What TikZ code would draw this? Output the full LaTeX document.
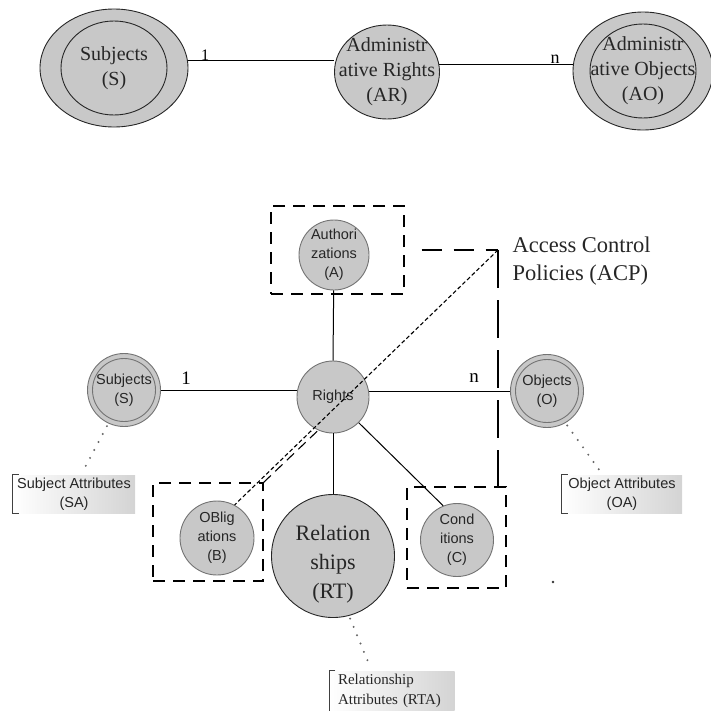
\documentclass[tikz,border=0pt]{standalone}
\usepackage{fontspec}
\setmainfont{Liberation Serif}
\setsansfont{Liberation Sans}
\usetikzlibrary{shapes.geometric, calc}
\definecolor{entgray}{RGB}{200,200,200}
\definecolor{ringgray}{RGB}{115,115,115}
\tikzset{
	topent/.style={ellipse, draw=black!85, line width=0.9pt, fill=entgray, inner sep=0pt},
	ent/.style={circle, draw=ringgray, line width=0.9pt, fill=entgray, inner sep=0pt},
	bigent/.style={circle, draw=black!85, line width=0.9pt, fill=entgray, inner sep=0pt},
	toptext/.style={align=center, font=\fontsize{20}{25}\selectfont, text=black!85},
	enttext/.style={align=center, font=\sffamily\fontsize{14.5}{19}\selectfont, text=black!85},
	bigtext/.style={align=center, font=\fontsize{22}{29}\selectfont, text=black!85},
	card/.style={inner sep=0pt, font=\fontsize{18}{18}\selectfont},
	dashbox/.style={rectangle, draw, line width=1.3pt, dash pattern=on 12pt off 8pt, inner sep=0pt},
	acpline/.style={draw, line width=1.3pt},
	diagline/.style={draw, line width=1.1pt, dash pattern=on 4pt off 2.5pt},
	diagline2/.style={draw, line width=1.1pt, dash pattern=on 10pt off 6pt},
	conn/.style={draw, line width=1pt},
	attrbox/.style={rectangle, inner sep=0pt, left color=white, right color=black!17, align=center, minimum height=38pt, font=\sffamily\fontsize{14.5}{19}\selectfont, text=black!85},
	bracket/.style={draw=black!75, line width=1.1pt},
	attrdots/.style={draw=black!60, line width=2.2pt, line cap=round, dash pattern=on 0pt off 9pt, shorten <=3pt, shorten >=6pt}
}

\begin{document}
\begin{tikzpicture}[x=1pt, y=-1pt]
	\useasboundingbox (0,0) rectangle (711,710);

	% Administrative level
	\node[topent, minimum width=148pt, minimum height=118pt] (S) at (114,68) {};
	\node[topent, minimum width=106pt, minimum height=94pt, label={[toptext]center:Subjects\\(S)}] (Sin) at (S) {};
	\node[topent, minimum width=105pt, minimum height=94pt, label={[toptext]center:Administr\\ative Rights\\(AR)}] (AR) at (387,72) {};
	\node[topent, minimum width=140pt, minimum height=118pt] (AO) at (643,71) {};
	\node[topent, minimum width=106pt, minimum height=94pt, label={[toptext]center:Administr\\ative Objects\\(AO)}] (AOin) at (AO) {};
	\draw[conn] (S.6) -- (S.6 -| AR.west);
	\draw[conn] (AR.8) -- (AR.8 -| AO.west);
	\node[card, font=\fontsize{16}{16}\selectfont] (cardSAR) at (205,55) {1};
	\node[card] (cardARAO) at (555,59) {n};

	% Rights and its entities
	\node[ent, minimum size=72pt, label={[enttext]center:Rights}] (R) at (333,397) {};
	\node[ent, minimum size=70pt, label={[enttext]center:Authori\\zations\\(A)}] (A) at (334,255) {};
	\node[dashbox, minimum width=133pt, minimum height=88pt] (Abox) at (337.5,250) {};
	\node[ent, minimum size=73pt] (S2) at (124,390) {};
	\node[ent, minimum size=63pt, label={[enttext]center:Subjects\\(S)}] (S2in) at (S2) {};
	\node[ent, minimum size=73pt] (O) at (547,391) {};
	\node[ent, minimum size=63pt, label={[enttext]center:Objects\\(O)}] (Oin) at (O) {};
	\node[bigent, minimum size=123pt, label={[bigtext, yshift=-8pt]center:Relation\\ships\\(RT)}] (RT) at (333,556) {};
	\node[ent, minimum size=74pt, label={[enttext]center:OBlig\\ations\\(B)}] (B) at (217,538) {};
	\node[dashbox, minimum width=110pt, minimum height=98pt] (Bbox) at (208,532) {};
	\node[ent, minimum size=73pt, label={[enttext]center:Cond\\itions\\(C)}] (C) at (457,540) {};
	\node[dashbox, minimum width=99pt, minimum height=101pt] (Cbox) at (456.5,537.5) {};

	\draw[conn] (R.north) -- (A);
	\draw[conn] (R) -- (RT);
	\draw[conn] (R.-45) -- (C.112);
	\draw[conn] (S2.east) -- (S2.east -| R.west);
	\draw[conn] (O.west -| R.east) -- (O.west);
	\node[card, font=\fontsize{19}{19}\selectfont] (cardSR) at (186,378) {1};
	\node[card, font=\fontsize{19}{19}\selectfont] (cardRO) at (474,378) {n};

	% Access control policies
	\coordinate (acp) at (498,250);
	\node[anchor=west, align=left, font=\fontsize{22.5}{28}\selectfont, text=black!85] (ACP) at (509,261) {Access Control\\Policies (ACP)};
	\draw[acpline, dash pattern=on 20pt off 12pt] (Abox.east) ++(17,0) -- (acp);
	\draw[acpline, dash pattern=on 38pt off 12pt] (acp) -- (acp |- Cbox.north);
	\draw[diagline] (acp) -- (B.62);
	\draw[diagline2] (Bbox.north east) -- (R.-114);

	% Attributes
	\node[attrbox, minimum width=122pt] (SA) at (74,494) {Subject Attributes\\(SA)};
	\draw[bracket] (SA.north west) ++(6,0) -| (SA.south west) -- ++(6,0);
	\node[attrbox, minimum width=120pt] (OA) at (622,494) {Object Attributes\\(OA)};
	\draw[bracket] (OA.north west) ++(6,0) -| (OA.south west) -- ++(6,0);
	\node[attrbox, minimum width=125pt, minimum height=40pt, text width=108pt, align=left, font=\fontsize{15}{20}\selectfont] (RTA) at (392,691) {Relationship\\Attributes (RTA)};
	\draw[bracket] (RTA.north west) ++(6,0) -| (RTA.south west) -- ++(6,0);
	\draw[attrdots] (S2.-115) -- (SA.70);
	\draw[attrdots] (O.-60) -- (OA.135);
	\draw[attrdots] (RT.-75) -- (RTA.135);
	\fill[black!80] (553,582) circle (1.3pt);
\end{tikzpicture}
\end{document}
